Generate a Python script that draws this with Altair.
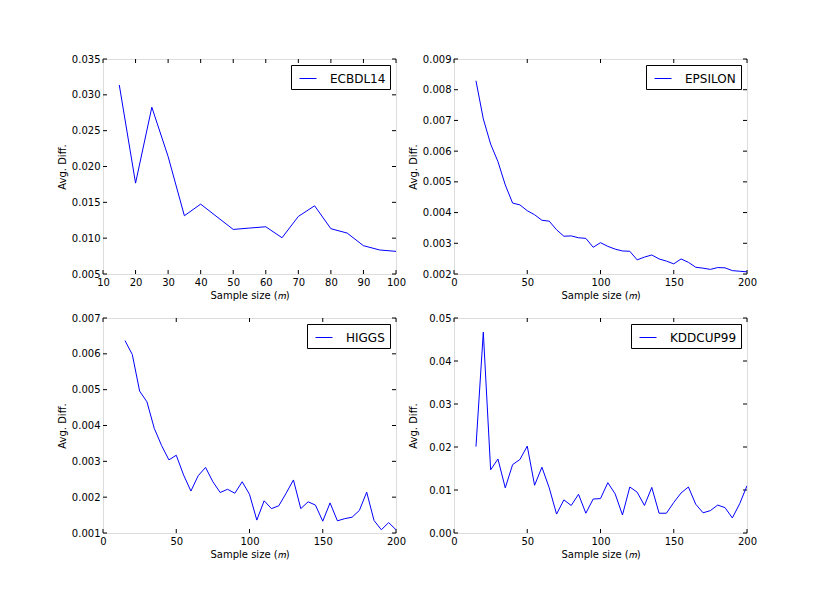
import altair as alt
import pandas as pd

FONT = "DejaVu Sans"
XTITLE = "Sample size (\U0001D45A)"
YTITLE = "Avg. Diff."

# ---- data ----
m_ecbdl = [15, 20, 25, 30, 35, 40, 45, 50, 55, 60, 65, 70, 75, 80, 85, 90, 95, 100]
ecbdl = [0.03138, 0.01768, 0.02827, 0.02139, 0.01313, 0.01475, 0.01298, 0.01122,
         0.01141, 0.01159, 0.01006, 0.01303, 0.01452, 0.01132, 0.01071, 0.00895,
         0.00835, 0.00816]

m_big = [15, 20, 25, 30, 35, 40, 45, 50, 55, 60, 65, 70, 75, 80, 85, 90, 95, 100,
         105, 110, 115, 120, 125, 130, 135, 140, 145, 150, 155, 160, 165, 170, 175,
         180, 185, 190, 195, 200]

epsilon = [0.00829, 0.00705, 0.00623, 0.00566, 0.00490, 0.00431, 0.00425, 0.00406,
           0.00393, 0.00375, 0.00372, 0.00344, 0.00323, 0.00324, 0.00318, 0.00316,
           0.00287, 0.00302, 0.00290, 0.00281, 0.00275, 0.00274, 0.00246, 0.00255,
           0.00262, 0.00249, 0.00242, 0.00233, 0.00249, 0.00238, 0.00222, 0.00219,
           0.00215, 0.00221, 0.00220, 0.00211, 0.00209, 0.00207]

higgs = [0.00637, 0.00598, 0.00496, 0.00466, 0.00392, 0.00344, 0.00304, 0.00317,
         0.00262, 0.00217, 0.00260, 0.00283, 0.00243, 0.00213, 0.00222, 0.00211,
         0.00243, 0.00208, 0.00136, 0.00190, 0.00168, 0.00176, 0.00211, 0.00248,
         0.00168, 0.00187, 0.00178, 0.00133, 0.00184, 0.00134, 0.00140, 0.00144,
         0.00163, 0.00214, 0.00135, 0.00109, 0.00129, 0.00109]

kddcup = [0.0201, 0.0467, 0.0147, 0.0172, 0.0105, 0.0159, 0.0171, 0.0202, 0.0111,
          0.0153, 0.0105, 0.0044, 0.0077, 0.0064, 0.0090, 0.0046, 0.0079, 0.0080,
          0.0117, 0.0091, 0.0042, 0.0107, 0.0095, 0.0064, 0.0106, 0.0046, 0.0046,
          0.0071, 0.0093, 0.0107, 0.0067, 0.0047, 0.0052, 0.0065, 0.0059, 0.0035,
          0.0068, 0.0110]

x_ticks_ecbdl = [10, 20, 30, 40, 50, 60, 70, 80, 90, 100]
x_ticks_big = [0, 50, 100, 150, 200]
y_ticks_ecbdl = [0.005, 0.010, 0.015, 0.020, 0.025, 0.030, 0.035]
y_ticks_eps = [0.002, 0.003, 0.004, 0.005, 0.006, 0.007, 0.008, 0.009]
y_ticks_higgs = [0.001, 0.002, 0.003, 0.004, 0.005, 0.006, 0.007]
y_ticks_kdd = [0.00, 0.01, 0.02, 0.03, 0.04, 0.05]

W, H = 293, 215
TICK = 4


def panel(name, ms, vals, xdom, xticks, xfmt, ydom, yticks, yfmt, ytitle_pad=4):
    df = pd.DataFrame({"m": ms, "v": vals, "name": [name] * len(ms)})
    xs = alt.Scale(domain=xdom, nice=False, zero=False)
    ys = alt.Scale(domain=ydom, nice=False, zero=False)
    common = dict(ticks=False, tickSize=0, domain=False, grid=False,
                  labelFont=FONT, labelFontSize=10, labelColor="black",
                  titleFont=FONT, titleFontSize=10, titleColor="black",
                  titleFontWeight="normal", labelFlush=False, labelOverlap=False,
                  labelBound=False)
    xaxis = alt.Axis(values=xticks, format=xfmt, title=XTITLE, labelPadding=3,
                     titlePadding=3, **common)
    yaxis = alt.Axis(values=yticks, format=yfmt, title=YTITLE, labelPadding=3,
                     titlePadding=ytitle_pad, **common)
    xenc = alt.X("m:Q", scale=xs, axis=xaxis)
    yenc = alt.Y("v:Q", scale=ys, axis=yaxis)

    line = alt.Chart(df).mark_line(strokeWidth=1, clip=True).encode(
        x=xenc, y=yenc,
        color=alt.Color("name:N", scale=alt.Scale(range=["#0000ff"]),
                        legend=alt.Legend(title=None, orient="top-right", offset=6,
                                          padding=4.5, strokeColor="black",
                                          fillColor="white", cornerRadius=0,
                                          symbolType="stroke", symbolSize=289,
                                          symbolStrokeWidth=1, symbolOffset=3.5,
                                          labelOffset=13, labelFont=FONT,
                                          labelFontSize=12, labelColor="black")))

    xt = pd.DataFrame({"m": xticks})
    yt = pd.DataFrame({"v": yticks})
    rule = dict(color="black", strokeWidth=1)
    xb = alt.Chart(xt).mark_rule(**rule).encode(x=xenc, y=alt.value(H), y2=alt.value(H - TICK))
    xtop = alt.Chart(xt).mark_rule(**rule).encode(x=xenc, y=alt.value(0), y2=alt.value(TICK))
    yl = alt.Chart(yt).mark_rule(**rule).encode(y=yenc, x=alt.value(0), x2=alt.value(TICK))
    yr = alt.Chart(yt).mark_rule(**rule).encode(y=yenc, x=alt.value(W), x2=alt.value(W - TICK))

    return alt.layer(xb, xtop, yl, yr, line).properties(width=W, height=H)


p1 = panel("ECBDL14", m_ecbdl, ecbdl, [10, 100], x_ticks_ecbdl, "d",
           [0.005, 0.035], y_ticks_ecbdl, ".3f")
p2 = panel("EPSILON", m_big, epsilon, [0, 200], x_ticks_big, "d",
           [0.002, 0.009], y_ticks_eps, ".3f")
p3 = panel("HIGGS", m_big, higgs, [0, 200], x_ticks_big, "d",
           [0.001, 0.007], y_ticks_higgs, ".3f")
p4 = panel("KDDCUP99", m_big, kddcup, [0, 200], x_ticks_big, "d",
           [0.0, 0.05], y_ticks_kdd, ".2f", ytitle_pad=10.4)

row1 = alt.hconcat(p1, p2, spacing=0).resolve_scale(color="independent").resolve_legend(color="independent")
row2 = alt.hconcat(p3, p4, spacing=0).resolve_scale(color="independent").resolve_legend(color="independent")

chart = alt.vconcat(row1, row2, spacing=11).resolve_scale(
    color="independent").resolve_legend(color="independent").properties(
    padding={"left": 48, "top": 45, "right": 5, "bottom": 5}
).configure_view(stroke="black", strokeWidth=1).configure(font=FONT)

chart.save("out.html", embed_options={"renderer": "svg", "actions": False})
